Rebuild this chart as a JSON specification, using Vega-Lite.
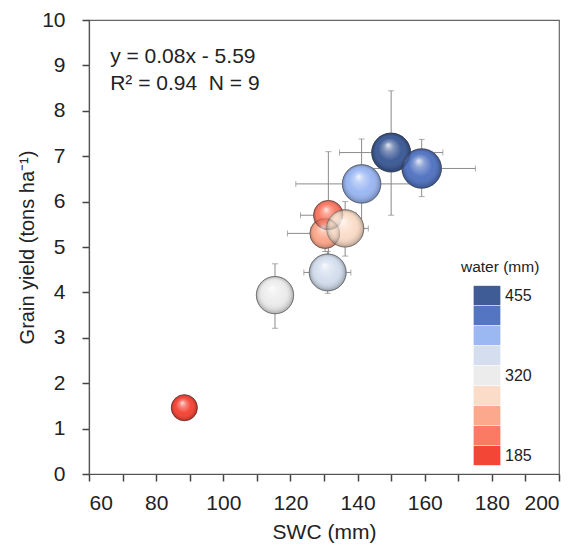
{
  "$schema": "https://vega.github.io/schema/vega-lite/v6.json",
  "width": 470,
  "height": 454,
  "autosize": {"type": "none"},
  "padding": {"left": 89, "top": 20, "right": 20, "bottom": 79},
  "background": "white",
  "config": {
    "font": "Liberation Sans",
    "view": {"stroke": "#666", "strokeWidth": 1.2},
    "axis": {
      "labelColor": "#222", "titleColor": "#222",
      "labelFontSize": 21, "titleFontSize": 21, "titleFontWeight": "normal", "grid": false,
      "labelFont": "Liberation Sans", "titleFont": "Liberation Sans"
    }
  },
  "datasets": {
    "pts": [
      {"water": 455, "swc": 150.0, "yield": 7.08, "swc_lo": 134.6, "swc_hi": 165.4, "yield_lo": 5.70, "yield_hi": 8.44, "z": 15.2},
      {"water": 421, "swc": 159.1, "yield": 6.73, "swc_lo": 143.1, "swc_hi": 175.1, "yield_lo": 6.11, "yield_hi": 7.37, "z": 15.6},
      {"water": 388, "swc": 141.2, "yield": 6.39, "swc_lo": 121.6, "swc_hi": 160.8, "yield_lo": 5.40, "yield_hi": 7.38, "z": 14.8},
      {"water": 253, "swc": 130.3, "yield": 5.30, "swc_lo": 119.1, "swc_hi": 141.5, "yield_lo": 4.90, "yield_hi": 5.70, "z": 9.1},
      {"water": 219, "swc": 131.3, "yield": 5.70, "swc_lo": 123.0, "swc_hi": 139.6, "yield_lo": 4.30, "yield_hi": 7.10, "z": 8.8},
      {"water": 286, "swc": 136.3, "yield": 5.41, "swc_lo": 129.4, "swc_hi": 143.2, "yield_lo": 4.80, "yield_hi": 6.00, "z": 13.9},
      {"water": 354, "swc": 131.1, "yield": 4.44, "swc_lo": 124.0, "swc_hi": 138.0, "yield_lo": 3.98, "yield_hi": 4.90, "z": 13.6},
      {"water": 320, "swc": 115.4, "yield": 3.94, "swc_lo": 113.0, "swc_hi": 118.0, "yield_lo": 3.21, "yield_hi": 4.63, "z": 13.9},
      {"water": 185, "swc": 88.4, "yield": 1.46, "swc_lo": 87.4, "swc_hi": 89.4, "yield_lo": 1.36, "yield_hi": 1.56, "z": 6.8}
    ]
  },
  "data": {"name": "pts"},
  "layer": [
    {
      "mark": {"type": "point", "filled": true, "opacity": 1, "stroke": "#444", "strokeWidth": 0.8, "strokeOpacity": 0.6},
      "encoding": {
        "x": {
          "field": "swc", "type": "quantitative", "title": "SWC (mm)",
          "scale": {"domain": [60, 200], "nice": false},
          "axis": {
            "values": [60, 70, 80, 90, 100, 110, 120, 130, 140, 150, 160, 170, 180, 190, 200],
            "labelExpr": "datum.value % 20 == 0 ? datum.label : ''",
            "labelPadding": 11, "titlePadding": 8,
            "domain": true, "domainColor": "#555", "domainWidth": 1.2,
            "ticks": true, "tickSize": 7, "tickColor": "#444", "tickWidth": 1.5, "tickOpacity": 1,
            "tickCount": 15
          }
        },
        "y": {
          "field": "yield", "type": "quantitative", "title": "Grain yield (tons ha⁻¹)",
          "scale": {"domain": [0, 10], "nice": false},
          "axis": {
            "values": [0, 1, 2, 3, 4, 5, 6, 7, 8, 9, 10],
            "labelPadding": 17, "titlePadding": 4, "titleFontSize": 20,
            "domain": true, "domainColor": "#555", "domainWidth": 1.2,
            "ticks": true, "tickSize": 7, "tickColor": "#444", "tickWidth": 1.5, "tickOpacity": 1,
            "tickCount": 11
          }
        },
        "size": {"field": "z", "type": "quantitative", "scale": {"type": "linear", "domain": [0, 16], "range": [0, 1600]}, "legend": null},
        "color": {
          "field": "water", "type": "ordinal",
          "scale": {
            "domain": [455, 421, 388, 354, 320, 286, 253, 219, 185],
            "range": ["#3f5c97", "#5475c2", "#9cb8f3", "#d4deee", "#ececec", "#fadcc8", "#fca88c", "#fb7a64", "#f44637"]
          },
          "legend": {
            "orient": "none", "legendX": 372, "legendY": 240,
            "title": "water (mm)", "titleFontSize": 15.5, "titleFontWeight": "normal", "titleColor": "#222",
            "titlePadding": 10, "titleFont": "Liberation Sans",
            "symbolType": "M-1.38,-1H1.38V1H-1.38Z", "symbolSize": 375, "symbolStrokeWidth": 0,
            "symbolOpacity": 1, "symbolOffset": 16,
            "rowPadding": 0, "labelFontSize": 16, "labelColor": "#222", "labelOffset": 8, "labelFont": "Liberation Sans",
            "labelExpr": "datum.value == 455 || datum.value == 320 || datum.value == 185 ? datum.label : ''"
          }
        }
      }
    },
    {
      "mark": {"type": "errorbar", "ticks": true, "size": 6, "thickness": 1, "color": "#8a8a8a"},
      "encoding": {
        "x": {"field": "swc", "type": "quantitative", "title": "SWC (mm)"},
        "y": {"field": "yield_lo", "type": "quantitative", "title": "Grain yield (tons ha⁻¹)"},
        "y2": {"field": "yield_hi"}
      }
    },
    {
      "mark": {"type": "errorbar", "ticks": true, "size": 6, "thickness": 1, "color": "#8a8a8a"},
      "encoding": {
        "x": {"field": "swc_lo", "type": "quantitative", "title": "SWC (mm)"},
        "x2": {"field": "swc_hi"},
        "y": {"field": "yield", "type": "quantitative", "title": "Grain yield (tons ha⁻¹)"}
      }
    },
    {
      "mark": {"type": "point", "filled": true, "opacity": 1, "stroke": "#444", "strokeWidth": 0.8, "strokeOpacity": 0.6},
      "encoding": {
        "x": {"field": "swc", "type": "quantitative", "title": "SWC (mm)"},
        "y": {"field": "yield", "type": "quantitative", "title": "Grain yield (tons ha⁻¹)"},
        "size": {"field": "z", "type": "quantitative", "scale": {"type": "linear", "domain": [0, 16], "range": [0, 1600]}, "legend": null},
        "color": {"field": "water", "type": "ordinal"}
      }
    },
    {
      "mark": {
        "type": "point", "filled": true, "opacity": 1, "strokeWidth": 0,
        "fill": {
          "gradient": "radial", "x1": 0.42, "y1": 0.3, "r1": 0, "x2": 0.5, "y2": 0.5, "r2": 0.5,
          "stops": [
            {"offset": 0, "color": "rgba(255,255,255,0.85)"},
            {"offset": 0.25, "color": "rgba(255,255,255,0.35)"},
            {"offset": 0.6, "color": "rgba(255,255,255,0)"},
            {"offset": 0.88, "color": "rgba(0,0,0,0.12)"},
            {"offset": 1, "color": "rgba(0,0,0,0.28)"}
          ]
        }
      },
      "encoding": {
        "x": {"field": "swc", "type": "quantitative", "title": "SWC (mm)"},
        "y": {"field": "yield", "type": "quantitative", "title": "Grain yield (tons ha⁻¹)"},
        "size": {"field": "z", "type": "quantitative", "scale": {"type": "linear", "domain": [0, 16], "range": [0, 1600]}, "legend": null}
      }
    },
    {
      "data": {"values": [{"label": "y = 0.08x - 5.59\nR² = 0.94\u00a0\u00a0N = 9"}]},
      "mark": {"type": "text", "align": "left", "baseline": "alphabetic", "fontSize": 21, "lineBreak": "\n", "lineHeight": 27, "color": "#222", "font": "Liberation Sans"},
      "encoding": {
        "x": {"datum": 66.3, "type": "quantitative"},
        "y": {"datum": 9.05, "type": "quantitative"},
        "text": {"field": "label"}
      }
    }
  ]
}
